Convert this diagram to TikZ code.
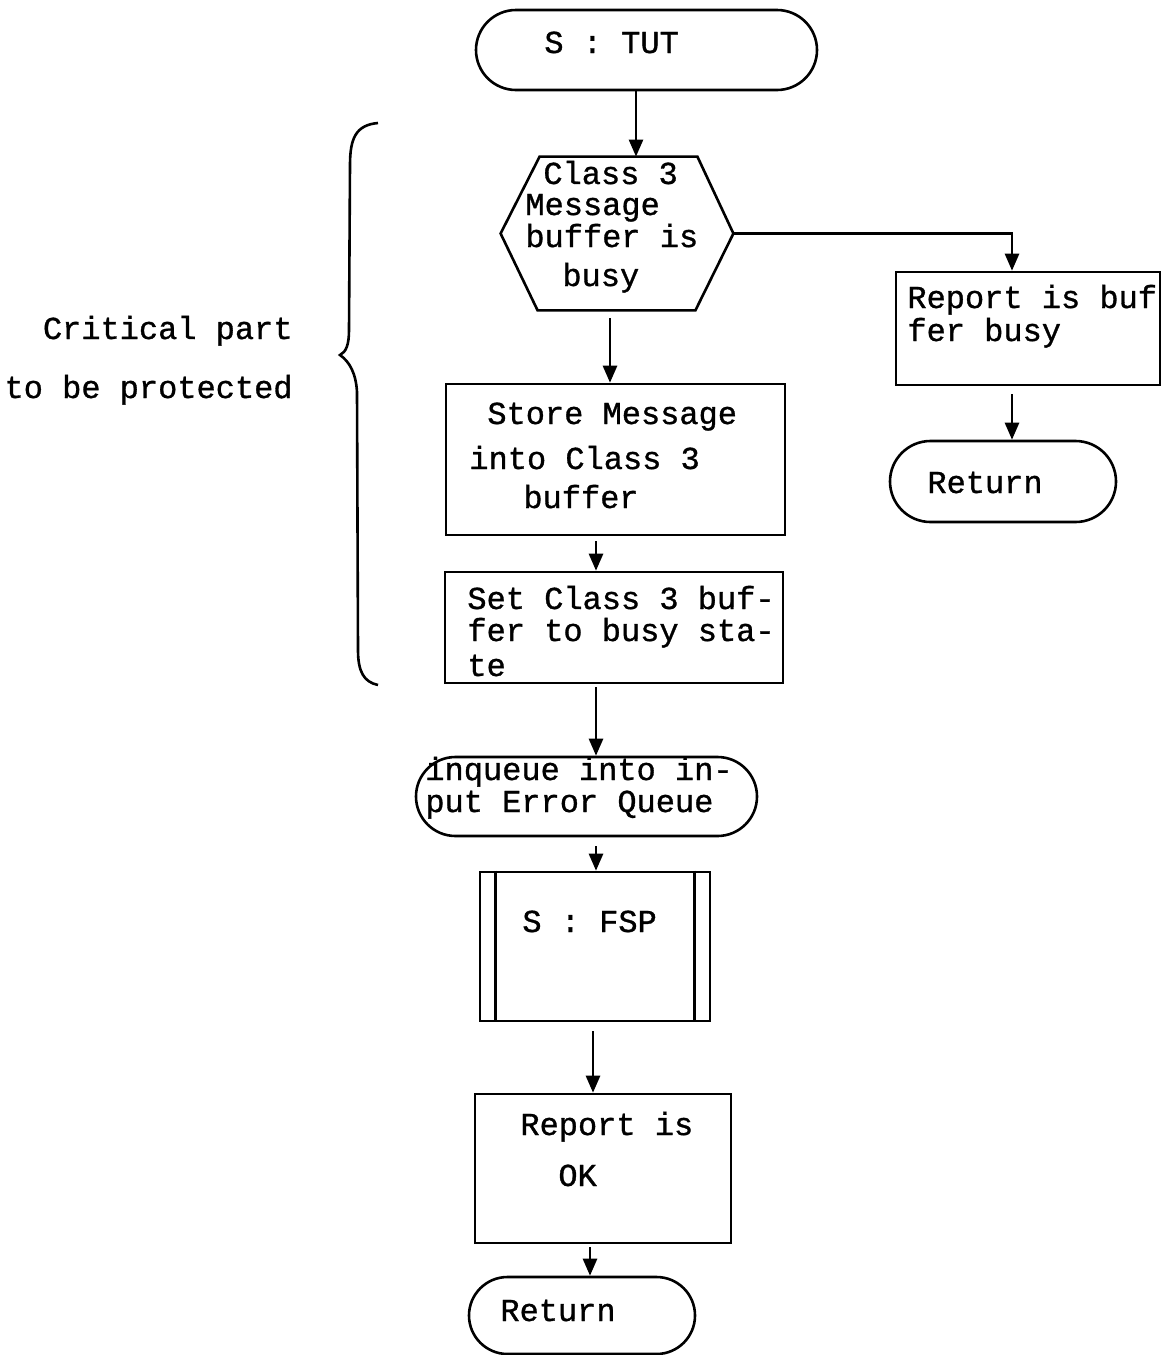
\documentclass[tikz,border=0pt]{standalone}
\usepackage{fontspec}
\newfontfamily\tw[FakeBold=1]{Liberation Mono}
\usetikzlibrary{arrows.meta,shapes.misc,calc}

\begin{document}
\begin{tikzpicture}[x=0.5pt,y=-0.5pt,
  line/.style={line width=1.3pt},
  arr/.style={line, -{Triangle[length=8.5pt,width=7pt]}},
  box/.style={line, draw, rectangle, inner sep=0pt},
  term/.style={line, draw, rounded rectangle, inner sep=0pt},
  ghost/.style={rectangle, inner sep=0pt},
  txt/.style={anchor=base west, inner sep=0pt, font=\tw\fontsize{16}{18}\selectfont},
  rtxt/.style={anchor=base east, inner sep=0pt, font=\tw\fontsize{16}{18}\selectfont}]

\useasboundingbox (0,0) rectangle (1169,1355);

% columns used by the vertical connectors
\coordinate (cA) at (636,0);
\coordinate (cB) at (610,0);
\coordinate (cC) at (596,0);
\coordinate (cD) at (593,0);
\coordinate (cE) at (590,0);
\coordinate (cR) at (1012,0);

% start terminal
\node[term, minimum width=170.5pt, minimum height=40pt] (start) at (646.5,50) {};
\node[txt] (tStart) at (544,53) {S : TUT};

% decision hexagon
\node[ghost, minimum width=116pt, minimum height=76.5pt] (hex) at (617,233.5) {};
\draw[line] ([xshift=19.5pt]hex.north west) -- ([xshift=-18pt]hex.north east)
  -- (hex.east) -- ([xshift=-19pt]hex.south east)
  -- ([xshift=18.5pt]hex.south west) -- (hex.west) -- cycle;
\node[txt] (tHex1) at (543,184) {Class 3};
\node[txt] (tHex2) at (525,215) {Message};
\node[txt] (tHex3) at (525,247) {buffer is};
\node[txt] (tHex4) at (562,286) {busy};

% busy branch
\node[box, minimum width=132pt, minimum height=56.5pt] (rbuf) at (1028,328.5) {};
\node[txt] (tRbuf1) at (907,308) {Report is buf};
\node[txt] (tRbuf2) at (907,341) {fer busy};
\node[term, minimum width=113pt, minimum height=40.5pt] (ret1) at (1003,481.5) {};
\node[txt] (tRet1) at (927,493) {Return};

% main path
\node[box, minimum width=169.5pt, minimum height=75.5pt] (store) at (615.5,459.5) {};
\node[txt] (tStore1) at (487,424) {Store Message};
\node[txt] (tStore2) at (469,469) {into Class 3};
\node[txt] (tStore3) at (523,508) {buffer};

\node[box, minimum width=169pt, minimum height=55.5pt] (setb) at (614,627.5) {};
\node[txt] (tSet1) at (467,609) {Set Class 3 buf-};
\node[txt] (tSet2) at (467,641) {fer to busy sta-};
\node[txt] (tSet3) at (467,676) {te};

\node[term, minimum width=170.5pt, minimum height=39.5pt] (inq) at (586.5,796.5) {};
\node[txt] (tInq1) at (425,780) {inqueue into in-};
\node[txt] (tInq2) at (425,812) {put Error Queue};

\node[box, minimum width=115pt, minimum height=74.5pt] (fsp) at (595,946.5) {};
\draw[line] ([xshift=8.5pt]fsp.north west) -- ([xshift=8.5pt]fsp.south west);
\draw[line] ([xshift=-8.5pt]fsp.north east) -- ([xshift=-8.5pt]fsp.south east);
\node[txt] (tFsp) at (522,932) {S : FSP};

\node[box, minimum width=128pt, minimum height=74.5pt] (rok) at (603,1168.5) {};
\node[txt] (tRok1) at (520,1135) {Report is};
\node[txt] (tRok2) at (558,1186) {OK};

\node[term, minimum width=113pt, minimum height=38.5pt] (ret2) at (582,1315.5) {};
\node[txt] (tRet2) at (500,1321) {Return};

% connectors
\draw[arr] (start.south -| cA) -- (hex.north -| cA);
\draw[arr] (hex.east) -| (rbuf.north -| cR);
\draw[arr, shorten <=4pt] (rbuf.south -| cR) -- (ret1.north -| cR);
\draw[arr, shorten <=4pt] (hex.south -| cB) -- (store.north -| cB);
\draw[arr, shorten <=2.5pt] (store.south -| cC) -- (setb.north -| cC);
\draw[arr, shorten <=1.5pt] (setb.south -| cC) -- (inq.north -| cC);
\draw[arr, shorten <=4.5pt] (inq.south -| cC) -- (fsp.north -| cC);
\draw[arr, shorten <=4.5pt] (fsp.south -| cD) -- (rok.north -| cD);
\draw[arr, shorten <=1.5pt] (rok.south -| cE) -- (ret2.north -| cE);

% brace around the critical section
\draw[line] (378,123) .. controls (356,125) and (350,138) .. (350,165)
  -- (349,330) .. controls (349,345) and (346,352) .. (340,355)
  .. controls (350,362) and (356,374) .. (357,392)
  -- (358,650) .. controls (358,672) and (364,682) .. (378,685);
\node[rtxt] (tCrit1) at (293,339) {Critical part};
\node[rtxt] (tCrit2) at (293,398) {to be protected};

\end{tikzpicture}
\end{document}
